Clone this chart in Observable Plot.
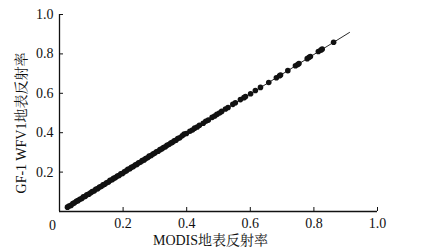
<!DOCTYPE html>
<html>
<head>
<meta charset="utf-8">
<script src="https://cdn.jsdelivr.net/npm/d3@7"></script>
<script src="https://cdn.jsdelivr.net/npm/@observablehq/plot@0.6"></script>
<style>
  html, body { margin: 0; padding: 0; background: #fff; }
  #chart svg { display: block; }
</style>
</head>
<body>
<div id="chart"></div>
<script>
const xTitle = "MODIS地表反射率";
const yTitle = "GF-1 WFV1地表反射率";
const xTicks = [0.2, 0.4, 0.6, 0.8, 1.0];
const yTicks = [0.2, 0.4, 0.6, 0.8, 1.0];
const originLabel = ["0"];

const modis = [0.025,0.03,0.036,0.042,0.047,0.053,0.058,0.064,0.07,0.075,0.081,0.086,0.092,0.098,0.103,0.109,0.114,0.12,0.126,0.131,0.137,0.142,0.148,0.154,0.159,0.165,0.17,0.176,0.182,0.187,0.193,0.198,0.204,0.21,0.215,0.221,0.226,0.232,0.238,0.243,0.249,0.254,0.26,0.266,0.271,0.277,0.282,0.288,0.294,0.299,0.305,0.31,0.316,0.322,0.327,0.333,0.338,0.344,0.35,0.355,0.361,0.366,0.372,0.378,0.386,0.392,0.399,0.41,0.418,0.425,0.433,0.44,0.452,0.46,0.468,0.48,0.488,0.495,0.503,0.51,0.522,0.53,0.545,0.553,0.569,0.58,0.585,0.601,0.616,0.632,0.658,0.682,0.692,0.695,0.718,0.742,0.749,0.753,0.779,0.785,0.789,0.814,0.822,0.826,0.862];
const gf1 = [0.022,0.028,0.031,0.040,0.044,0.052,0.055,0.062,0.066,0.074,0.077,0.085,0.088,0.095,0.101,0.104,0.113,0.116,0.124,0.127,0.135,0.138,0.146,0.150,0.158,0.161,0.168,0.172,0.180,0.183,0.191,0.193,0.202,0.206,0.214,0.217,0.224,0.228,0.236,0.239,0.247,0.250,0.258,0.262,0.269,0.273,0.281,0.284,0.292,0.296,0.303,0.306,0.314,0.318,0.325,0.329,0.336,0.340,0.348,0.351,0.359,0.362,0.370,0.374,0.384,0.393,0.396,0.407,0.414,0.423,0.429,0.438,0.448,0.458,0.464,0.478,0.485,0.493,0.500,0.508,0.520,0.528,0.544,0.552,0.568,0.578,0.584,0.598,0.614,0.630,0.655,0.679,0.689,0.693,0.715,0.740,0.746,0.751,0.776,0.783,0.787,0.812,0.819,0.824,0.859];

const fitX = [0.025, 0.912];
const fitY = [0.022, 0.909];

const points = modis.map((x, i) => ({x, y: gf1[i]}));
const fit = fitX.map((x, i) => ({x, y: fitY[i]}));

const font = "'Liberation Serif', 'Times New Roman', 'Noto Serif CJK SC', 'Noto Sans CJK SC', serif";

const chart = Plot.plot({
  width: 421,
  height: 251,
  marginLeft: 59,
  marginRight: 44,
  marginTop: 14,
  marginBottom: 40,
  style: { fontFamily: font, fontSize: "14px", color: "#111", background: "#fff" },
  x: { domain: [0, 1], range: [59, 377] },
  y: { domain: [0, 1], range: [211, 14] },
  marks: [
    Plot.ruleX([0], { y1: 0, y2: 1, stroke: "#111", strokeWidth: 1.3 }),
    Plot.ruleY([0], { x1: 0, x2: 1, stroke: "#111", strokeWidth: 1.3 }),
    Plot.axisY({ ticks: yTicks, tickSize: -4, tickPadding: 10, tickFormat: d3.format(".1f"), label: null, fontSize: 14, stroke: "#111" }),
    Plot.axisX({ ticks: xTicks, tickSize: -4, tickPadding: 11, tickFormat: d3.format(".1f"), label: null, fontSize: 14, stroke: "#111" }),
    Plot.text(originLabel, { x: 0, y: 0, text: d => d, dx: -7, dy: 14, fontSize: 14 }),
    Plot.line(fit, { x: "x", y: "y", stroke: "#111", strokeWidth: 0.9 }),
    Plot.dot(points, { x: "x", y: "y", r: 2.8, fill: "#111", stroke: "none" }),
    Plot.text([xTitle], { frameAnchor: "bottom", dx: -8, dy: 33, fontSize: 14, fill: "#111" }),
    Plot.text([yTitle], { frameAnchor: "left", textAnchor: "middle", rotate: -90, dx: -38, dy: 10, fontSize: 14, fill: "#111" })
  ]
});
document.getElementById("chart").appendChild(chart);
</script>
</body>
</html>
